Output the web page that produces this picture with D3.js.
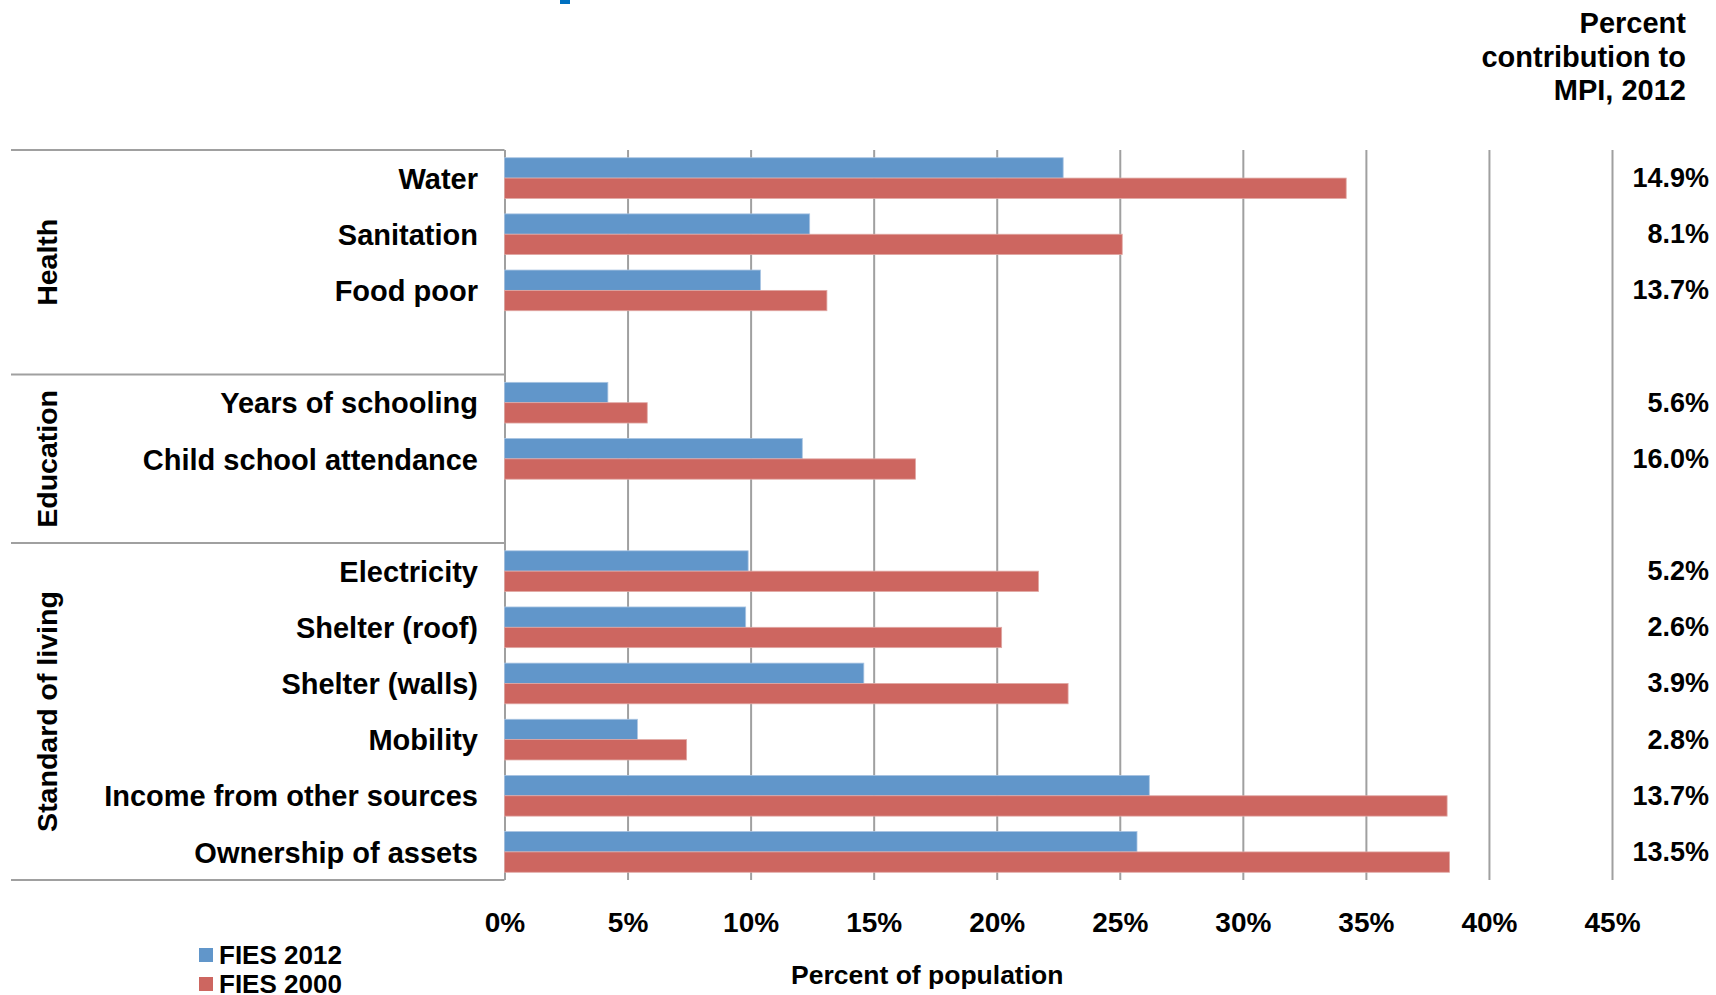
<!DOCTYPE html>
<html>
<head>
<meta charset="utf-8">
<script src="https://cdn.jsdelivr.net/npm/d3@7"></script>
<style>
  body { margin: 0; background: #fff; }
  text { font-family: "Liberation Sans", Arial, sans-serif; font-weight: bold; fill: #000; }
</style>
</head>
<body>
<div id="chart"></div>
<script>
// data
const groups = ["Health", "Education", "Standard of living"];
const categories = ["Water", "Sanitation", "Food poor", "Years of schooling", "Child school attendance",
    "Electricity", "Shelter (roof)", "Shelter (walls)", "Mobility", "Income from other sources", "Ownership of assets"];
const categoryGroup = ["Health", "Health", "Health", "Education", "Education",
    "Standard of living", "Standard of living", "Standard of living", "Standard of living", "Standard of living", "Standard of living"];
const fies2012 = [22.7, 12.4, 10.4, 4.2, 12.1, 9.9, 9.8, 14.6, 5.4, 26.2, 25.7];
const fies2000 = [34.2, 25.1, 13.1, 5.8, 16.7, 21.7, 20.2, 22.9, 7.4, 38.3, 38.4];
const mpiContribution = ["14.9%", "8.1%", "13.7%", "5.6%", "16.0%", "5.2%", "2.6%", "3.9%", "2.8%", "13.7%", "13.5%"];
const xTicks = [0, 5, 10, 15, 20, 25, 30, 35, 40, 45];
const seriesNames = ["FIES 2012", "FIES 2000"];
const seriesColors = ["#6196ca", "#cd6660"];
const headerLines = ["Percent", "contribution to", "MPI, 2012"];

const cfg = {
    width: 1716, height: 995,
    left: 504.5, right: 1612,
    top: 150, bottom: 880,
    lineLeft: 11,
    gridColor: "#a0a0a0"
};

// slot list: categories, with an empty slot closing Health and Education
const slots = [];
groups.forEach((g, gi) => {
    categories.forEach((c, i) => { if (categoryGroup[i] === g) slots.push(c); });
    if (gi < groups.length - 1) slots.push("gap-" + g);
});

const svg = d3.select("#chart").append("svg")
    .attr("width", cfg.width)
    .attr("height", cfg.height);

const x = d3.scaleLinear().domain([0, 45]).range([cfg.left, cfg.right]);
const y = d3.scaleBand().domain(slots).range([cfg.top, cfg.bottom]).padding(0);
const ySub = d3.scaleBand().domain(seriesNames).range([0, y.bandwidth()])
    .paddingInner(0).paddingOuter(0.38);

// cropped title fragment at the very top
svg.append("rect").attr("x", 560).attr("y", 0).attr("width", 10).attr("height", 4).attr("fill", "#0070c0");

// gridlines + tick labels
const xAxis = svg.append("g")
    .attr("transform", "translate(0," + cfg.bottom + ")")
    .call(d3.axisBottom(x).tickValues(xTicks)
        .tickSizeInner(-(cfg.bottom - cfg.top)).tickSizeOuter(0).tickPadding(32)
        .tickFormat(d => d + "%"));
xAxis.select(".domain").remove();
xAxis.selectAll("line").attr("stroke", cfg.gridColor).attr("stroke-width", 2);
xAxis.selectAll("text").style("font-size", "28px").style("font-family", null).attr("fill", "#000");

// bars
const rows = categories.map((c, i) => ({ c, v: [fies2012[i], fies2000[i]] }));
const rowG = svg.append("g").selectAll("g")
    .data(rows).enter().append("g")
    .attr("transform", d => "translate(0," + y(d.c) + ")");
rowG.selectAll("rect")
    .data(d => d.v.map((v, k) => ({ v, k })))
    .enter().append("rect")
    .attr("x", x(0))
    .attr("y", d => ySub(seriesNames[d.k]))
    .attr("width", d => x(d.v) - x(0))
    .attr("height", ySub.bandwidth())
    .attr("fill", d => seriesColors[d.k])
    .attr("stroke", d => d.k === 0 ? "#a9c4e2" : "#e0a8a4")
    .attr("stroke-width", 0.8);

// category labels
svg.append("g").selectAll("text")
    .data(categories).enter().append("text")
    .attr("x", 478)
    .attr("y", d => y(d) + y.bandwidth() / 2)
    .attr("dy", "0.37em")
    .attr("text-anchor", "end")
    .style("font-size", "29px")
    .text(d => d);

// MPI contribution column
svg.append("g").selectAll("text")
    .data(categories).enter().append("text")
    .attr("x", 1709)
    .attr("y", (d, i) => y(d) + y.bandwidth() / 2)
    .attr("dy", "0.33em")
    .attr("text-anchor", "end")
    .style("font-size", "27px")
    .text((d, i) => mpiContribution[i]);

svg.append("g").selectAll("text")
    .data(headerLines).enter().append("text")
    .attr("x", 1686)
    .attr("y", (d, i) => 33 + i * 33.5)
    .attr("text-anchor", "end")
    .style("font-size", "29px")
    .text(d => d);

// group frame lines and rotated group names
const groupSpans = groups.map(g => {
    const first = slots.indexOf(categories[categoryGroup.indexOf(g)]);
    const members = slots.filter(s => s === "gap-" + g || categoryGroup[categories.indexOf(s)] === g);
    const last = slots.indexOf(members[members.length - 1]);
    return { g, y0: y(slots[first]), y1: y(slots[last]) + y.bandwidth() };
});
const boundaries = [cfg.top].concat(groupSpans.map(s => s.y1));
svg.append("g").selectAll("line")
    .data(boundaries).enter().append("line")
    .attr("x1", cfg.lineLeft).attr("x2", x(0))
    .attr("y1", d => d).attr("y2", d => d)
    .attr("stroke", cfg.gridColor).attr("stroke-width", 2);

svg.append("g").selectAll("text")
    .data(groupSpans).enter().append("text")
    .attr("transform", d => "translate(57," + (d.y0 + d.y1) / 2 + ") rotate(-90)")
    .attr("text-anchor", "middle")
    .style("font-size", "28.5px")
    .text(d => d.g);

// x axis title
svg.append("text")
    .attr("x", (x(0) + x(45)) / 2 - 131)
    .attr("y", 975)
    .attr("dy", "0.35em")
    .attr("text-anchor", "middle")
    .style("font-size", "26.5px")
    .text("Percent of population");

// legend
const legend = svg.append("g").selectAll("g")
    .data(seriesNames).enter().append("g")
    .attr("transform", (d, i) => "translate(199," + (955 + i * 29) + ")");
legend.append("rect")
    .attr("x", 0).attr("y", -7).attr("width", 14).attr("height", 14)
    .attr("fill", (d, i) => seriesColors[i]);
legend.append("text")
    .attr("x", 20).attr("dy", "0.36em")
    .style("font-size", "26px")
    .text(d => d);
</script>
</body>
</html>
